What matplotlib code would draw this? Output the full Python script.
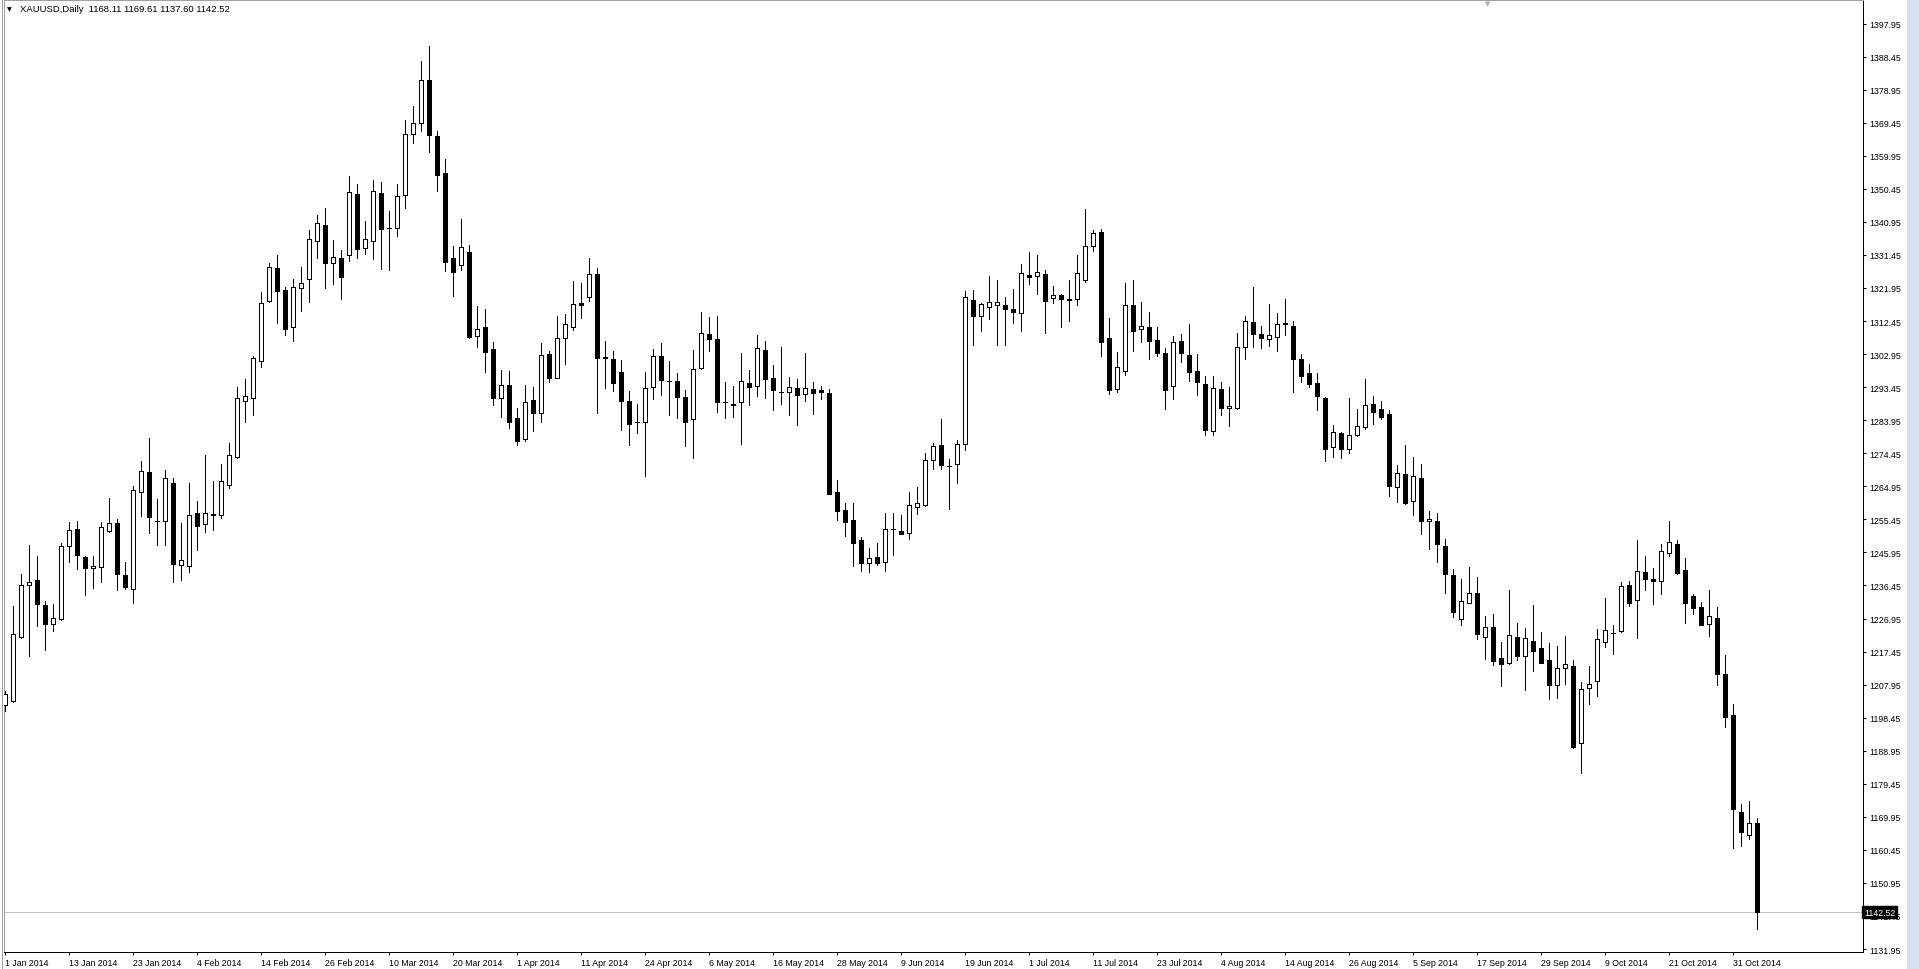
import matplotlib
matplotlib.use("Agg")
from matplotlib import pyplot as plt
from matplotlib.patches import Rectangle
from matplotlib.lines import Line2D
from matplotlib.transforms import blended_transform_factory

# --- data: XAUUSD daily bars, 1 Jan 2014 .. 5 Nov 2014 (Good Friday missing) ---
opens = [
    1202.0, 1203.3, 1221.5, 1236.5, 1238.0, 1230.8, 1225.5, 1226.8, 1247.7, 1252.6,
    1244.6, 1241.4, 1241.7, 1252.2, 1254.3, 1239.5, 1235.5, 1263.2, 1269.1, 1255.0,
    1254.9, 1265.9, 1242.2, 1242.1, 1257.2, 1254.0, 1256.8, 1256.6, 1265.2, 1273.5,
    1289.4, 1290.2, 1301.1, 1318.1, 1327.7, 1321.3, 1310.6, 1321.9, 1324.4, 1335.4,
    1340.0, 1329.0, 1330.5, 1331.5, 1349.0, 1333.4, 1335.6, 1349.3, 1339.1, 1339.1,
    1348.6, 1366.1, 1369.3, 1381.6, 1365.6, 1355.0, 1330.5, 1328.5, 1332.3, 1308.2,
    1310.7, 1304.4, 1290.4, 1294.1, 1284.6, 1278.6, 1289.8, 1285.9, 1303.0, 1296.2,
    1307.7, 1310.8, 1317.6, 1319.3, 1325.9, 1302.1, 1301.4, 1297.8, 1289.4, 1283.4,
    1283.3, 1293.4, 1302.3, 1295.2, 1295.1, 1290.5, 1284.2, 1298.9, 1308.7, 1307.2,
    1289.1, 1288.5, 1289.1, 1294.6, 1293.7, 1304.2, 1296.0, 1292.0, 1292.0, 1293.1,
    1291.4, 1292.9, 1292.6, 1291.8, 1263.2, 1258.2, 1255.3, 1249.4, 1242.8, 1244.6,
    1243.3, 1252.7, 1252.0, 1251.4, 1259.1, 1259.7, 1272.4, 1276.8, 1270.9, 1271.3,
    1277.0, 1318.5, 1313.8, 1316.6, 1317.1, 1317.1, 1316.0, 1314.9, 1325.6, 1325.3,
    1326.0, 1319.2, 1319.9, 1318.8, 1318.7, 1324.3, 1334.1, 1338.0, 1307.5, 1292.9,
    1298.2, 1317.1, 1310.3, 1310.6, 1307.0, 1303.3, 1293.7, 1306.7, 1302.7, 1298.0,
    1294.3, 1280.8, 1292.9, 1287.4, 1287.4, 1304.9, 1312.2, 1308.6, 1307.2, 1307.8,
    1311.9, 1311.0, 1301.5, 1297.5, 1294.6, 1290.4, 1276.2, 1280.3, 1275.8, 1279.6,
    1281.9, 1288.6, 1287.2, 1285.7, 1264.8, 1268.5, 1260.6, 1267.3, 1254.9, 1255.0,
    1247.8, 1239.5, 1226.7, 1231.5, 1234.2, 1221.5, 1224.5, 1215.6, 1214.1, 1221.6,
    1216.3, 1220.5, 1218.5, 1215.0, 1207.7, 1212.6, 1213.2, 1191.1, 1206.9, 1208.9,
    1220.1, 1222.8, 1223.5, 1236.6, 1232.2, 1240.2, 1238.2, 1237.6, 1245.7, 1248.4,
    1240.8, 1233.3, 1230.2, 1225.3, 1227.0, 1210.9, 1199.1, 1171.2, 1164.7, 1168.11,
]
highs = [
    1206.0, 1230.4, 1239.7, 1248.1, 1244.9, 1231.9, 1231.1, 1248.7, 1254.7, 1255.0,
    1244.9, 1244.9, 1254.6, 1261.6, 1255.6, 1243.1, 1265.0, 1272.2, 1278.8, 1261.3,
    1269.6, 1267.3, 1254.4, 1265.9, 1260.7, 1274.0, 1266.5, 1271.4, 1277.4, 1293.5,
    1295.8, 1302.5, 1320.7, 1329.1, 1331.3, 1322.1, 1324.4, 1328.0, 1338.6, 1342.9,
    1344.9, 1335.7, 1332.9, 1354.1, 1351.8, 1341.2, 1353.0, 1352.4, 1344.1, 1351.8,
    1370.3, 1374.3, 1387.2, 1391.5, 1367.1, 1359.0, 1334.0, 1341.8, 1334.2, 1316.8,
    1315.9, 1306.3, 1298.4, 1298.0, 1287.5, 1294.2, 1293.5, 1306.1, 1303.8, 1313.9,
    1314.5, 1324.0, 1323.4, 1330.6, 1327.6, 1306.7, 1303.7, 1301.3, 1292.3, 1288.6,
    1297.8, 1304.4, 1306.1, 1301.0, 1297.4, 1292.6, 1304.1, 1315.0, 1313.5, 1313.8,
    1294.9, 1293.7, 1303.3, 1298.4, 1308.4, 1306.6, 1299.8, 1304.9, 1296.3, 1295.8,
    1303.2, 1294.9, 1293.7, 1292.9, 1266.8, 1260.1, 1260.1, 1250.4, 1247.2, 1248.6,
    1257.2, 1257.2, 1256.6, 1263.3, 1264.7, 1274.5, 1277.4, 1284.3, 1272.8, 1278.2,
    1321.1, 1321.5, 1317.7, 1325.4, 1324.3, 1319.3, 1321.7, 1328.9, 1332.4, 1331.4,
    1327.2, 1322.4, 1320.2, 1324.3, 1331.4, 1344.7, 1338.6, 1338.9, 1313.4, 1303.6,
    1323.4, 1324.3, 1318.0, 1315.1, 1310.6, 1304.6, 1308.1, 1308.6, 1311.6, 1303.0,
    1296.7, 1296.6, 1294.8, 1293.5, 1309.0, 1313.9, 1322.2, 1311.0, 1317.4, 1314.9,
    1318.8, 1312.5, 1303.0, 1300.1, 1297.4, 1290.5, 1282.6, 1280.6, 1290.3, 1287.2,
    1295.8, 1290.8, 1289.5, 1287.0, 1271.1, 1276.8, 1273.4, 1271.4, 1257.9, 1257.3,
    1249.8, 1241.2, 1238.3, 1241.8, 1238.9, 1227.7, 1228.2, 1220.2, 1235.1, 1225.7,
    1224.2, 1230.8, 1223.0, 1219.8, 1219.0, 1221.9, 1214.9, 1208.7, 1213.2, 1223.8,
    1232.8, 1225.1, 1237.3, 1237.6, 1249.5, 1244.9, 1241.4, 1248.3, 1255.0, 1249.4,
    1244.3, 1234.0, 1231.6, 1235.1, 1230.3, 1216.4, 1202.3, 1173.6, 1174.6, 1169.61,
]
lows = [
    1200.5, 1202.9, 1221.3, 1216.3, 1224.7, 1218.0, 1223.3, 1226.6, 1243.3, 1241.3,
    1233.8, 1235.8, 1237.3, 1251.9, 1235.2, 1235.5, 1231.3, 1256.5, 1251.6, 1248.2,
    1248.2, 1237.4, 1238.0, 1240.2, 1246.7, 1251.9, 1252.5, 1255.7, 1264.6, 1273.2,
    1283.5, 1285.5, 1299.3, 1317.8, 1312.0, 1308.3, 1306.8, 1315.4, 1318.0, 1330.7,
    1321.9, 1323.1, 1318.9, 1329.8, 1330.6, 1331.8, 1330.3, 1327.5, 1327.2, 1337.0,
    1344.8, 1363.7, 1367.2, 1361.1, 1349.9, 1326.9, 1319.7, 1327.2, 1307.5, 1305.1,
    1297.9, 1288.4, 1285.0, 1281.8, 1276.9, 1277.9, 1280.9, 1283.4, 1295.0, 1296.0,
    1300.1, 1310.0, 1313.4, 1318.1, 1285.9, 1293.1, 1292.4, 1281.2, 1276.9, 1280.2,
    1268.0, 1290.0, 1291.3, 1285.5, 1284.5, 1276.6, 1273.2, 1298.7, 1303.8, 1286.2,
    1284.5, 1285.0, 1277.1, 1288.4, 1291.0, 1290.2, 1287.0, 1288.7, 1285.3, 1282.7,
    1289.4, 1285.8, 1290.0, 1262.6, 1255.4, 1250.8, 1241.9, 1240.5, 1240.2, 1242.4,
    1240.5, 1245.3, 1251.1, 1249.7, 1257.1, 1259.4, 1269.9, 1269.9, 1258.4, 1265.8,
    1275.5, 1305.7, 1309.5, 1313.1, 1305.7, 1305.7, 1311.9, 1309.7, 1323.0, 1320.3,
    1308.9, 1317.7, 1310.8, 1312.6, 1317.2, 1323.8, 1332.7, 1302.5, 1291.5, 1292.1,
    1296.8, 1303.9, 1306.5, 1301.4, 1302.5, 1287.2, 1290.0, 1300.8, 1295.3, 1291.2,
    1279.8, 1279.8, 1285.5, 1282.2, 1287.1, 1301.4, 1305.1, 1304.8, 1305.2, 1303.9,
    1308.3, 1292.0, 1294.8, 1293.4, 1287.0, 1272.3, 1273.5, 1273.1, 1274.6, 1279.4,
    1281.4, 1282.9, 1284.2, 1262.1, 1260.5, 1259.9, 1256.8, 1251.1, 1246.9, 1243.3,
    1234.4, 1227.3, 1225.2, 1231.3, 1221.0, 1215.4, 1213.5, 1207.6, 1213.8, 1215.0,
    1206.4, 1212.0, 1214.1, 1203.9, 1204.1, 1208.2, 1189.6, 1182.5, 1202.4, 1204.6,
    1218.7, 1216.8, 1223.0, 1230.4, 1221.4, 1235.0, 1231.2, 1234.0, 1244.8, 1239.8,
    1225.8, 1228.1, 1225.0, 1222.0, 1207.9, 1195.7, 1160.9, 1161.5, 1163.5, 1137.60,
]
closes = [
    1205.2, 1222.4, 1236.5, 1237.4, 1231.2, 1225.5, 1227.0, 1247.7, 1252.3, 1245.1,
    1241.4, 1242.0, 1253.2, 1254.3, 1239.6, 1236.1, 1263.8, 1269.3, 1256.2, 1254.9,
    1267.2, 1242.7, 1243.7, 1256.6, 1253.6, 1257.2, 1256.9, 1266.4, 1273.9, 1290.2,
    1290.8, 1301.7, 1317.7, 1327.9, 1321.2, 1310.3, 1322.1, 1323.3, 1335.9, 1340.5,
    1329.0, 1330.8, 1325.2, 1349.4, 1333.2, 1335.9, 1349.7, 1339.0, 1339.1, 1348.3,
    1366.1, 1369.3, 1381.6, 1366.0, 1354.3, 1329.3, 1326.6, 1333.6, 1307.8, 1310.2,
    1303.6, 1290.4, 1294.1, 1283.5, 1278.1, 1289.1, 1285.9, 1302.7, 1296.2, 1307.5,
    1311.5, 1317.3, 1317.2, 1325.9, 1301.7, 1301.7, 1294.5, 1289.6, 1282.8, 1283.4,
    1293.1, 1302.3, 1295.4, 1295.2, 1290.7, 1283.5, 1298.6, 1308.9, 1307.2, 1289.1,
    1289.1, 1288.2, 1295.1, 1293.4, 1304.8, 1295.7, 1292.5, 1292.0, 1293.4, 1291.3,
    1293.1, 1291.9, 1292.0, 1262.8, 1257.9, 1254.8, 1248.7, 1242.8, 1244.2, 1243.0,
    1252.7, 1252.7, 1251.3, 1259.5, 1260.1, 1272.5, 1276.4, 1271.0, 1270.9, 1277.0,
    1319.3, 1314.0, 1317.3, 1317.8, 1317.9, 1316.0, 1315.1, 1326.3, 1325.2, 1326.5,
    1318.3, 1319.8, 1318.9, 1318.4, 1326.3, 1334.1, 1337.8, 1306.5, 1292.7, 1299.2,
    1317.1, 1309.7, 1310.9, 1306.8, 1303.3, 1292.7, 1306.4, 1303.2, 1297.9, 1295.0,
    1281.2, 1293.2, 1287.4, 1288.0, 1304.9, 1312.4, 1308.8, 1307.5, 1308.3, 1311.5,
    1311.5, 1301.5, 1296.7, 1294.4, 1290.8, 1275.8, 1280.5, 1275.8, 1279.7, 1282.3,
    1288.2, 1286.4, 1285.0, 1265.1, 1268.8, 1260.2, 1267.9, 1255.1, 1255.6, 1248.5,
    1239.6, 1228.9, 1231.9, 1234.2, 1222.6, 1224.5, 1214.8, 1214.0, 1222.2, 1216.3,
    1221.3, 1217.7, 1214.3, 1207.9, 1212.6, 1213.9, 1190.1, 1206.6, 1208.0, 1221.0,
    1223.6, 1222.8, 1236.2, 1231.5, 1240.5, 1238.4, 1237.6, 1246.3, 1248.9, 1240.0,
    1231.5, 1230.1, 1225.2, 1227.6, 1211.1, 1198.6, 1172.1, 1165.5, 1168.1, 1142.52,
]

date_labels = [
    "1 Jan 2014", "13 Jan 2014", "23 Jan 2014", "4 Feb 2014", "14 Feb 2014",
    "26 Feb 2014", "10 Mar 2014", "20 Mar 2014", "1 Apr 2014", "11 Apr 2014",
    "24 Apr 2014", "6 May 2014", "16 May 2014", "28 May 2014", "9 Jun 2014",
    "19 Jun 2014", "1 Jul 2014", "11 Jul 2014", "23 Jul 2014", "4 Aug 2014",
    "14 Aug 2014", "26 Aug 2014", "5 Sep 2014", "17 Sep 2014", "29 Sep 2014",
    "9 Oct 2014", "21 Oct 2014", "31 Oct 2014",
]
label_step = 8  # one date label every 8 bars

price_ticks = [1131.95 + 9.5 * k for k in range(29)]
symbol = "XAUUSD,Daily"
last_bar = (1168.11, 1169.61, 1137.60, 1142.52)

# --- figure setup (pixel based, 1919 x 970) ---
W, H = 1919, 970
fig = plt.figure(figsize=(W / 100, H / 100), dpi=100, facecolor="white")
ax = fig.add_axes([4 / W, 17 / H, (1863 - 4) / W, (953 - 1) / H])
ax.set_facecolor("white")

px = 0.72  # one pixel in points
font = ["Liberation Sans", "DejaVu Sans"]
fs = 6.3

n = len(opens)
xs = list(range(n))

# wicks
ax.vlines(xs, lows, highs, colors="black", linewidth=px, antialiased=False, zorder=2)

# bodies
bottoms, heights, faces = [], [], []
for o, c in zip(opens, closes):
    lo, hi = min(o, c), max(o, c)
    bottoms.append(lo)
    heights.append(max(hi - lo, 0.001))
    faces.append("white" if c > o else "black")
ax.bar(xs, heights, bottom=bottoms, width=0.5, color=faces, edgecolor="black",
       linewidth=px, antialiased=False, zorder=3)

# bid line
ax.axhline(last_bar[3], color="#c0c0c0", linewidth=px, zorder=1)

# axes limits: bar i sits at pixel 5 + 8 i
ax.set_xlim(-0.125, 232.25)
ax.set_ylim(1131.09, 1404.73)

# spines
for side in ["left", "top"]:
    ax.spines[side].set_color("#a0a0a0")
    ax.spines[side].set_linewidth(px)
for side in ["right", "bottom"]:
    ax.spines[side].set_color("black")
    ax.spines[side].set_linewidth(px)

# outer window frame line on the left
fig.lines.append(Line2D([1.5 / W, 1.5 / W], [0, 1], transform=fig.transFigure,
                        color="#a0a0a0", linewidth=px))

# price axis on the right
ax.yaxis.tick_right()
ax.set_yticks(price_ticks)
ax.set_yticklabels([f"{p:.2f}" for p in price_ticks], fontfamily=font, fontsize=fs)
ax.tick_params(axis="y", direction="out", length=2.5, width=px, pad=2, colors="black")

# time axis
ax.set_xticks(list(range(0, label_step * len(date_labels), label_step)))
ax.set_xticklabels(date_labels, fontfamily=font, fontsize=fs)
for lbl in ax.get_xticklabels():
    lbl.set_horizontalalignment("left")
ax.tick_params(axis="x", direction="out", length=2.5, width=px, pad=2, colors="black")

# last price box (covers the 1141.45 label, as in the terminal)
tr = blended_transform_factory(ax.transAxes, ax.transData)
ax.text(1.0005, last_bar[3], f"{last_bar[3]:.2f}", transform=tr, ha="left", va="center",
        color="white", fontfamily=font, fontsize=fs, zorder=5,
        bbox=dict(boxstyle="square,pad=0.2", facecolor="black", edgecolor="black"))

# title in the top left corner
fig.text(7 / W, 1 - 10 / H, "\u25bc", fontsize=4.5, color="black", ha="left", va="center",
         fontfamily="DejaVu Sans")
title = f"{symbol}  " + " ".join(f"{v:.2f}" for v in last_bar)
fig.text(20 / W, 1 - 10 / H, title, fontsize=6.8, color="black", ha="left", va="center",
         fontfamily=font)

# chart shift marker at the top
fig.text(1488 / W, 1 - 4 / H, "\u25bc", fontsize=5, color="#b0b0b0", ha="center",
         va="center", fontfamily="DejaVu Sans")

# window frame strip on the right
fig.patches.append(Rectangle((1907 / W, 0), 12 / W, 1, transform=fig.transFigure,
                             facecolor="#d6e2f0", edgecolor="none"))

fig.savefig("out.png", dpi=100, facecolor="white")
